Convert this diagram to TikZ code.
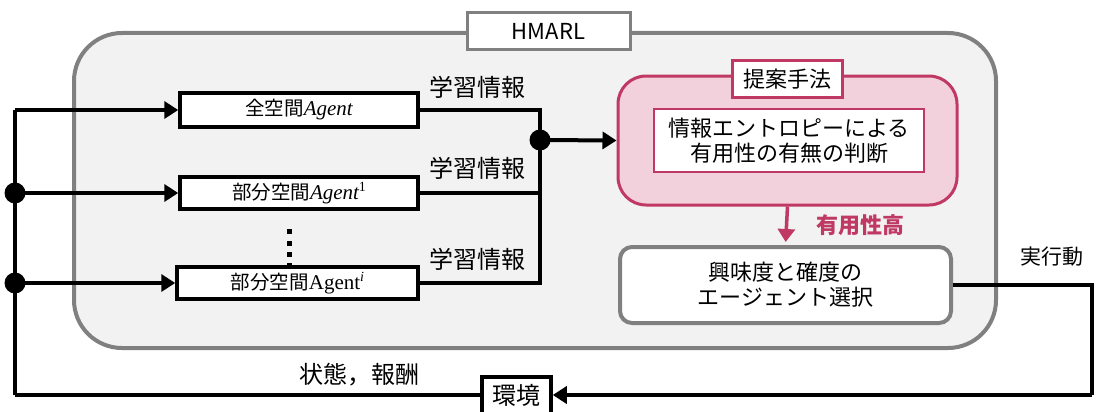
\documentclass[tikz,border=0pt]{standalone}
\usepackage{fontspec}
\setmainfont{Noto Sans CJK JP}
\newfontfamily\serifag{Liberation Serif}
\usetikzlibrary{arrows.meta}
\definecolor{pinkb}{RGB}{192,57,100}
\definecolor{pinkf}{RGB}{242,208,220}
\definecolor{grayb}{RGB}{128,128,128}
\definecolor{grayf}{RGB}{242,242,242}
\newcommand{\agit}{{\serifag\fontsize{21}{24}\selectfont\itshape Agent}}
\newcommand{\agup}{{\serifag\fontsize{21}{24}\selectfont Agent}}
\newcommand{\agsup}[1]{\raisebox{8pt}{\serifag\fontsize{14}{16}\selectfont #1}}
\tikzset{
  agentbox/.style={draw=black, line width=3.5pt, fill=white, inner sep=0pt, font=\fontsize{19.5}{22}\selectfont},
  wire/.style={draw=black, line width=4pt},
  arr/.style={wire, -{Triangle[length=14pt,width=17pt]}},
  jdot/.style={circle, fill=black, minimum size=21pt, inner sep=0pt},
  lbl/.style={font=\fontsize{24}{28}\selectfont, inner sep=0pt},
}
\begin{document}
\begin{tikzpicture}[x=1pt,y=-1pt]
\useasboundingbox (0,0) rectangle (1097,412);
% big HMARL container
\draw[draw=grayb, line width=4pt, fill=grayf, rounded corners=48pt] (74,33) rectangle (996,348);
\node[draw=grayb, line width=3pt, fill=white, minimum width=163pt, minimum height=37pt, inner sep=0pt, font=\fontsize{22}{26}\selectfont] (hm) at (548.5,31.5) {HMARL};

% agent boxes
\node[agentbox, minimum width=238pt, minimum height=34pt] (a1) at (299,110) {全空間\agit};
\node[agentbox, minimum width=238pt, minimum height=32pt] (a2) at (299,193) {部分空間\agit\agsup{1}};
\node[agentbox, minimum width=241pt, minimum height=32pt] (a3) at (297.5,283) {部分空間\agup\agsup{\itshape i}};

% vertical ellipsis
\foreach \yy in {231,243,254,265} \fill (286.5,\yy-2.5) rectangle (291.5,\yy+2.5);

% left feed lines
\coordinate (L1) at (15,110);
\node[jdot] (L2) at (15,193) {};
\node[jdot] (L3) at (15,283) {};
\coordinate (Lb) at (15,395);
\draw[wire] (Lb) -- (L1);
\draw[arr] (L1) -- (a1.west);
\draw[arr] (L2.center) -- (a2.west);
\draw[arr] (L3.center) -- (a3.west);

% proposed method box
\node[draw=pinkb, line width=3pt, fill=pinkf, rounded corners=28pt, minimum width=339pt, minimum height=129pt] (prop) at (787.5,140.5) {};
\node[draw=pinkb, line width=3pt, fill=white, minimum width=110pt, minimum height=36pt, inner sep=0pt, font=\fontsize{22}{26}\selectfont] (title) at (787,79) {提案手法};
\node[draw=pinkb, line width=1.5pt, fill=white, minimum width=270pt, minimum height=63pt, inner sep=0pt, align=center, font=\fontsize{22}{25}\selectfont] (ent) at (789,140.5) {情報エントロピーによる\\有用性の有無の判断};

% right collector lines
\coordinate (R1) at (540,110);
\node[jdot] (J) at (540,140) {};
\coordinate (R2) at (540,193);
\coordinate (R3) at (540,283);
\draw[wire] (a1.east) -- (R1) -- (R3) -- (a3.east);
\draw[wire] (a2.east) -- (R2);
\draw[arr] (J.center) -- (prop.west);
\node[lbl] (g1) at (477,87) {学習情報};
\node[lbl] (g2) at (477,168) {学習情報};
\node[lbl] (g3) at (477,259) {学習情報};

% selection box
\node[draw=grayb, line width=4pt, fill=white, rounded corners=12pt, minimum width=331pt, minimum height=76pt, inner sep=0pt, align=center, font=\fontsize{22}{25}\selectfont] (sel) at (785.5,285) {興味度と確度の\\エージェント選択};
\draw[draw=pinkb, line width=3.5pt, -{Triangle[length=13pt,width=17pt]}, shorten >=3pt] (prop.south) -- (sel.north);
\node[text=pinkb, font=\fontsize{22}{26}\selectfont\bfseries, inner sep=0pt] (hi) at (860,225) {有用性高};

% environment loop
\node[draw=black, line width=3.5pt, fill=white, minimum width=69pt, minimum height=46pt, inner sep=0pt, anchor=north] (env) at (516.5,375) {};
\node[lbl] (envt) at (516.5,395) {環境};
\coordinate (Ra) at (1092,285);
\coordinate (Rb) at (1092,395);
\draw[wire] (sel.east) -- (Ra) -- (Rb);
\draw[arr] (Rb) -- (env.east |- Rb);
\draw[wire] (Lb) -- (env.west |- Lb);
\node[font=\fontsize{21}{24}\selectfont, inner sep=0pt] (act) at (1052,257) {実行動};
\node[lbl] (st) at (359,375) {状態，報酬};
\end{tikzpicture}
\end{document}
